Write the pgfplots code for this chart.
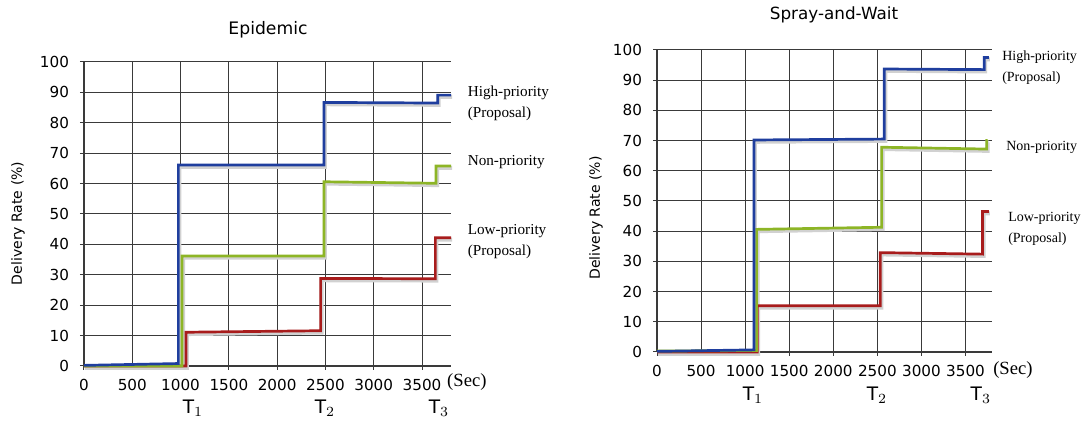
\documentclass[border=0pt]{standalone}
\usepackage{pgfplots}
\pgfplotsset{compat=1.18}
\usepackage{fontspec}
\setmainfont{Liberation Serif}
\newfontfamily\dv{DejaVu Sans}

\definecolor{hiblue}{HTML}{1F3E9E}
\definecolor{nongreen}{HTML}{8DB526}
\definecolor{lored}{HTML}{A81C1C}
\definecolor{gridc}{HTML}{3A3A3A}

\pgfplotsset{
  dtn/.style={
    scale only axis,
    anchor=south west,
    xmin=0, xmax=3800, ymin=0, ymax=100,
    xtick={0,500,...,3500},
    ytick={0,10,...,100},
    axis x line=bottom, axis y line=left,
    axis line style={-, gridc, line width=0.6pt},
    grid=major,
    grid style={gridc, line width=0.5pt},
    tick align=outside, major tick length=2pt,
    tick style={gridc, line width=0.5pt},
    /pgf/number format/assume math mode=true,
    /pgf/number format/1000 sep={},
    ticklabel style={font=\dv\fontsize{7.6}{9}\selectfont},
    xticklabel style={yshift=-1pt},
    yticklabel style={xshift=-2pt},
    clip=false,
  },
}
\tikzset{
  lshadow/.style={black!18, line width=2pt, shift={(0.5pt,-0.9pt)}},
  hi/.style={hiblue, line width=1.35pt},
  non/.style={nongreen, line width=1.35pt},
  lo/.style={lored, line width=1.35pt},
  note/.style={anchor=west, align=left, inner sep=0pt, font=\fontsize{7.6}{10.5}\selectfont},
  noter/.style={anchor=west, align=left, inner sep=0pt, font=\fontsize{7}{10.5}\selectfont},
  tlab/.style={font=\dv\fontsize{9.3}{10}\selectfont},
}

\begin{document}
\begin{tikzpicture}
\useasboundingbox (0,0) rectangle (542pt,210.5pt);

% ---------- Epidemic ----------
\begin{axis}[dtn, width=183.5pt, height=152pt, at={(42pt,27.5pt)}]
\addplot[lshadow, forget plot] coordinates {(0,0.2) (970,0.8) (977,0.8) (977,66.1) (2485,66.1) (2485,86.7) (3662,86.5) (3662,89.1) (3800,89.1)};
\addplot[lshadow, forget plot] coordinates {(0,0) (1010,0) (1015,0) (1015,36.2) (2485,36.2) (2485,60.6) (3645,60.1) (3645,65.8) (3800,65.8)};
\addplot[lshadow, forget plot] coordinates {(0,0) (1056,0) (1056,11.1) (2450,11.6) (2450,28.8) (3638,28.7) (3638,42.2) (3800,42.2)};
\addplot[lo] coordinates {(0,0) (1056,0) (1056,11.1) (2450,11.6) (2450,28.8) (3638,28.7) (3638,42.2) (3800,42.2)};
\addplot[non] coordinates {(0,0) (1010,0) (1015,0) (1015,36.2) (2485,36.2) (2485,60.6) (3645,60.1) (3645,65.8) (3800,65.8)};
\addplot[hi] coordinates {(0,0.2) (970,0.8) (977,0.8) (977,66.1) (2485,66.1) (2485,86.7) (3662,86.5) (3662,89.1) (3800,89.1)};
\node[note] at (axis cs:3970,86.5) {High-priority\\(Proposal)};
\node[note] at (axis cs:3970,67.1) {Non-priority};
\node[note] at (axis cs:3970,40.8) {Low-priority\\(Proposal)};
\node[anchor=west, font=\fontsize{9.3}{10}\selectfont, inner sep=0pt] at (axis cs:3757,-5.3) {(Sec)};
\node[tlab] at (axis cs:1128,-13.8) {T$_1$};
\node[tlab] at (axis cs:2495,-13.8) {T$_2$};
\node[tlab] at (axis cs:3675,-13.8) {T$_3$};
\end{axis}

% ---------- Spray-and-Wait ----------
\begin{axis}[dtn, width=167.5pt, height=151pt, at={(328.5pt,34.5pt)}]
\addplot[lshadow, forget plot] coordinates {(0,0.2) (1095,0.7) (1100,0.7) (1100,70.2) (2578,70.5) (2578,93.7) (3712,93.5) (3712,97.5) (3765,97.5)};
\addplot[lshadow, forget plot] coordinates {(0,0.3) (1125,0.5) (1130,0.5) (1130,40.6) (2548,41.3) (2548,67.8) (3739,67.2) (3739,70.0) (3750,70.0)};
\addplot[lshadow, forget plot] coordinates {(0,0) (1137,0) (1137,15.3) (2533,15.3) (2533,32.9) (3693,32.4) (3693,46.5) (3765,46.5)};
\addplot[lo] coordinates {(0,0) (1137,0) (1137,15.3) (2533,15.3) (2533,32.9) (3693,32.4) (3693,46.5) (3765,46.5)};
\addplot[non] coordinates {(0,0.3) (1125,0.5) (1130,0.5) (1130,40.6) (2548,41.3) (2548,67.8) (3739,67.2) (3739,70.0) (3750,70.0)};
\addplot[hi] coordinates {(0,0.2) (1095,0.7) (1100,0.7) (1100,70.2) (2578,70.5) (2578,93.7) (3712,93.5) (3712,97.5) (3765,97.5)};
\node[noter] at (axis cs:3912,94.0) {High-priority\\(Proposal)};
\node[noter] at (axis cs:3958,67.9) {Non-priority};
\node[noter] at (axis cs:3980,40.7) {Low-priority\\(Proposal)};
\node[anchor=west, font=\fontsize{9.3}{10}\selectfont, inner sep=0pt] at (axis cs:3810,-6) {(Sec)};
\node[tlab] at (axis cs:1089,-14.2) {T$_1$};
\node[tlab] at (axis cs:2495,-14.2) {T$_2$};
\node[tlab] at (axis cs:3674,-14.2) {T$_3$};
\end{axis}

% titles and y labels
\node[font=\dv\fontsize{8.6}{10}\selectfont] at (134pt,195.5pt) {Epidemic};
\node[font=\dv\fontsize{8.4}{10}\selectfont] at (417pt,203pt) {Spray-and-Wait};
\node[rotate=90, font=\dv\fontsize{7}{8}\selectfont] at (9pt,98.8pt) {Delivery Rate (\%)};
\node[rotate=90, font=\dv\fontsize{7}{8}\selectfont] at (298pt,101.5pt) {Delivery Rate (\%)};
\end{tikzpicture}
\end{document}
